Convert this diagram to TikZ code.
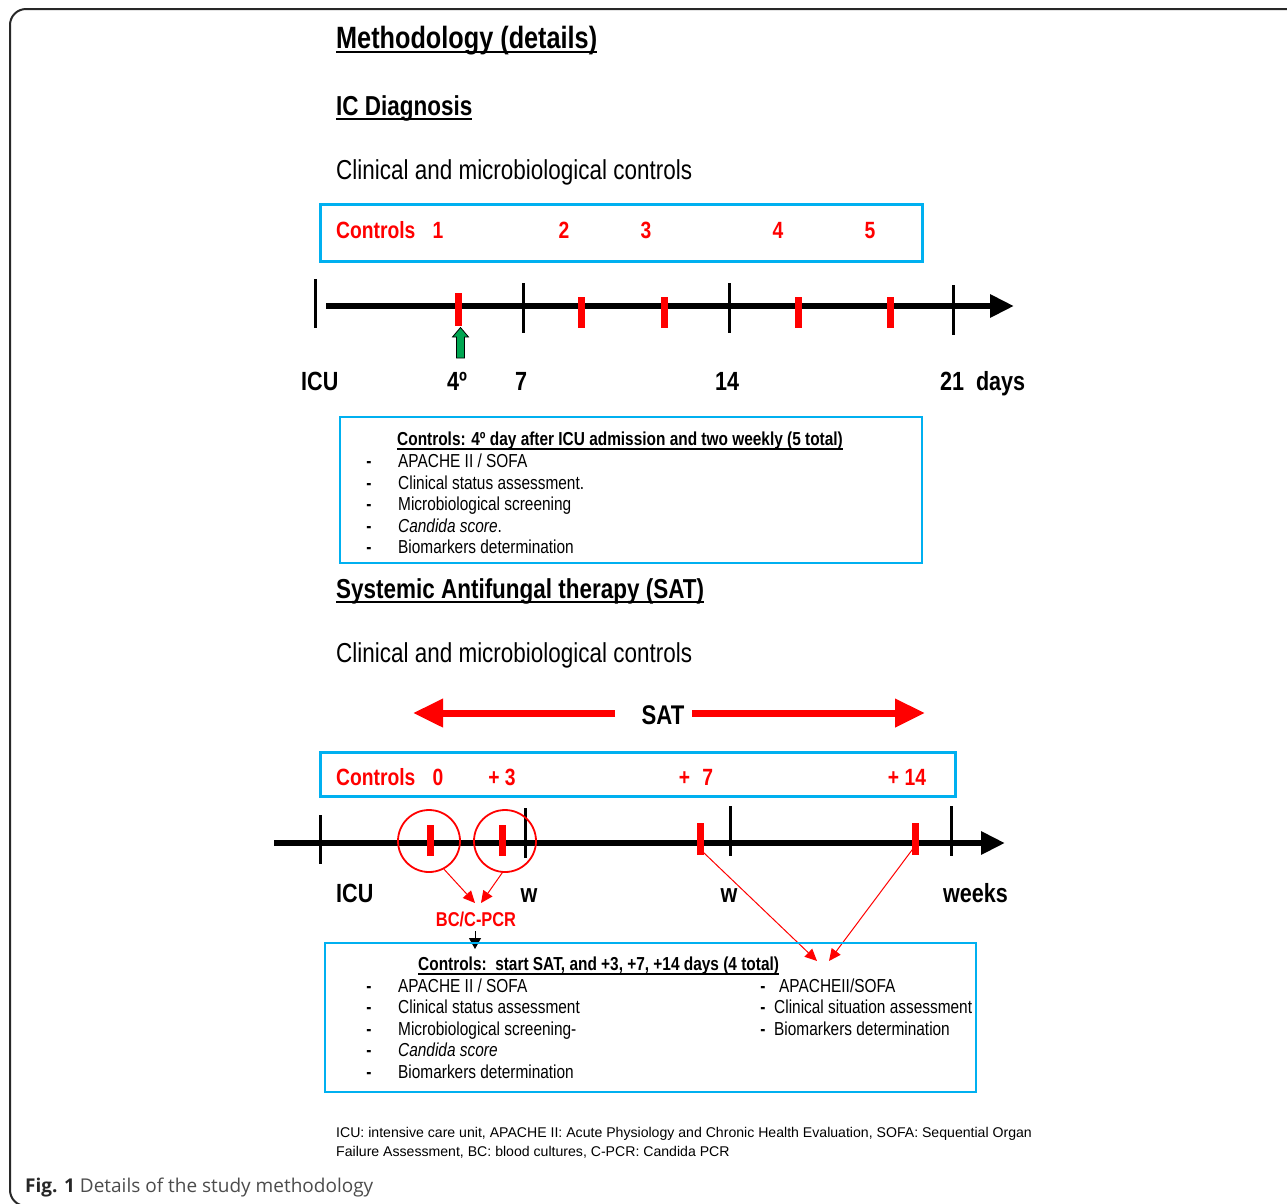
\documentclass[tikz,border=0pt]{standalone}
\usepackage{fontspec}
\setmainfont{Liberation Sans}[FakeStretch=0.82]
\newfontfamily\widefont{Liberation Sans}
\newfontfamily\capfont{Open Sans}
\usetikzlibrary{arrows.meta}
\definecolor{boxblue}{RGB}{0,176,240}
\definecolor{sred}{RGB}{255,0,0}
\definecolor{sgreen}{RGB}{0,166,81}
\definecolor{framegray}{RGB}{40,40,40}
\begin{document}
\begin{tikzpicture}[x=1pt,y=-1pt,
  txt/.style={inner sep=0pt, anchor=base west},
  ctxt/.style={inner sep=0pt, anchor=base},
  bigtitle/.style={txt, font=\fontsize{30.8}{36}\selectfont\bfseries},
  sectitle/.style={txt, font=\fontsize{27.4}{32}\selectfont\bfseries},
  plain/.style={txt, font=\fontsize{27.4}{32}\selectfont},
  ctrl/.style={font=\fontsize{23.5}{28}\selectfont\bfseries, text=sred},
  tlab/.style={font=\fontsize{26.3}{30}\selectfont\bfseries},
  boxtxt/.style={txt, font=\fontsize{18.8}{22}\selectfont},
  boxdash/.style={inner sep=0pt, anchor=base, font=\fontsize{18.8}{22}\selectfont\bfseries},
  boxtitle/.style={txt, font=\fontsize{18.8}{22}\selectfont\bfseries},
  thickblue/.style={draw=boxblue, line width=3, inner sep=0pt},
  thinblue/.style={draw=boxblue, line width=1.2, inner sep=0pt},
  axisline/.style={line width=6, -{Triangle[length=24pt,width=22pt]}},
  blacktick/.style={line width=3},
  redtick/.style={line width=7, sred},
  satarrow/.style={line width=7, sred, -{Triangle[length=30pt,width=27pt]}},
  thinred/.style={line width=1, sred, -{Triangle[length=12pt,width=11pt]}},
  uline/.style={line width=1.8}
]
\useasboundingbox (0,0) rectangle (1287,1203);
\begin{scope}
  \clip (0,0) rectangle (1287,1203);
  \draw[line width=2, draw=framegray, rounded corners=16] (10,9) rectangle (1320,1206);
\end{scope}

% ---------- titles
\node[bigtitle] (t1) at (336,48) {Methodology (details)};
\draw[uline, line width=2] ([yshift=-4pt]t1.base west) -- ([yshift=-4pt]t1.base east);
\node[sectitle] (t2) at (336,115) {IC Diagnosis};
\draw[uline] ([yshift=-4pt]t2.base west) -- ([yshift=-4pt]t2.base east);
\node[plain] (t3) at (336,179) {Clinical and microbiological controls};

% ---------- box 1
\node[thickblue, minimum width=602, minimum height=57] (box1) at (621,232.5) {};
\node[ctrl, txt] (c1) at (336,238) {Controls\hspace{0.5em} 1};
\node[ctrl, ctxt] (c2) at (564,238) {2};
\node[ctrl, ctxt] (c3) at (646,238) {3};
\node[ctrl, ctxt] (c4) at (778,238) {4};
\node[ctrl, ctxt] (c5) at (870,238) {5};

% ---------- timeline 1
\coordinate (a1s) at (326,306);
\coordinate (a1e) at (1014,306);
\draw[axisline] (a1s) -- (a1e);
\draw[blacktick] (315,279) -- (315,328);
\draw[blacktick] (523,283) -- (523,333);
\draw[blacktick] (729,283) -- (729,333);
\draw[blacktick] (953,285) -- (953,335);
\draw[redtick] (458,293) -- (458,326);
\draw[redtick] (581,297) -- (581,328);
\draw[redtick] (664,297) -- (664,328);
\draw[redtick] (798,297) -- (798,328);
\draw[redtick] (890,297) -- (890,328);
\filldraw[fill=sgreen, draw=black, line width=0.8]
  (456.5,358) -- (456.5,337) -- (452.5,337) -- (460.5,327.5) -- (468.5,337) -- (464.5,337) -- (464.5,358) -- cycle;
\node[tlab, txt] (l1) at (301,390) {ICU};
\node[tlab, ctxt] (l2) at (457,390) {4º};
\node[tlab, ctxt] (l3) at (521,390) {7};
\node[tlab, ctxt] (l4) at (727,390) {14};
\node[tlab, txt] (l5) at (940,390) {21\hspace{0.45em}days};

% ---------- box 2
\node[thinblue, minimum width=582, minimum height=146] (box2) at (631,490) {};
\node[boxtitle] (b2t) at (397,445) {Controls: 4º day after ICU admission and two weekly (5 total)};
\draw[uline, line width=1.2] ([yshift=-4pt]b2t.base west) -- ([yshift=-4pt]b2t.base east);
\foreach \yy/\tt [count=\i] in {467/{APACHE II / SOFA}, 489/{Clinical status assessment.}, 510/{Microbiological screening}, 532/{\textit{Candida score}.}, 553/{Biomarkers determination}}{
  \node[boxdash] (b2d\i) at (369,\yy) {-};
  \node[boxtxt] (b2i\i) at (398,\yy) {\tt};
}

% ---------- section 2
\node[sectitle] (t4) at (336,598) {Systemic Antifungal therapy (SAT)};
\draw[uline] ([yshift=-4pt]t4.base west) -- ([yshift=-4pt]t4.base east);
\node[plain] (t5) at (336,662) {Clinical and microbiological controls};

\node[tlab, font=\fontsize{27}{32}\selectfont\bfseries, anchor=base] (sat) at (663,724) {SAT};
\coordinate (satl) at (413,713);
\coordinate (satr) at (925,713);
\draw[satarrow] (615,713) -- (satl);
\draw[satarrow] (692,713) -- (satr);

% ---------- box 3
\node[thickblue, minimum width=635, minimum height=44] (box3) at (637.5,774) {};
\node[ctrl, txt] (d1) at (336,785) {Controls\hspace{0.5em} 0};
\node[ctrl, ctxt] (d2) at (502,785) {+ 3};
\node[ctrl, ctxt] (d3) at (696,785) {+\hspace{0.3em} 7};
\node[ctrl, ctxt] (d4) at (907,785) {+ 14};

% ---------- timeline 2
\coordinate (a2s) at (274,843);
\coordinate (a2e) at (1005,843);
\draw[axisline] (a2s) -- (a2e);
\draw[blacktick] (320,815) -- (320,864);
\draw[blacktick] (525,808) -- (525,858);
\draw[blacktick] (730,806) -- (730,856);
\draw[blacktick] (951,806) -- (951,856);
\draw[redtick] (430,825) -- (430,856);
\draw[redtick] (502,825) -- (502,856);
\coordinate (r7top) at (700,823);
\coordinate (r7) at (700,855);
\coordinate (r14top) at (915,823);
\coordinate (r14) at (915,855);
\draw[redtick] (r7top) -- (r7);
\draw[redtick] (r14top) -- (r14);
\node[draw=sred, line width=1.8, circle, minimum size=62, inner sep=0pt] (cir1) at (429,841) {};
\node[draw=sred, line width=1.8, circle, minimum size=62, inner sep=0pt] (cir2) at (505,841) {};
\node[tlab, txt] (m1) at (336,902) {ICU};
\node[tlab, ctxt] (m2) at (529,902) {w};
\node[tlab, ctxt] (m3) at (729,902) {w};
\node[tlab, txt] (m4) at (943,902) {weeks};

\node[ctxt, font=\fontsize{20}{24}\selectfont\bfseries, text=sred] (bc) at (476,926) {BC/C-PCR};
\coordinate (bcin1) at (475,903);
\coordinate (bcin2) at (481,903);
\draw[thinred] (cir1.-62) -- (bcin1);
\draw[thinred] (cir2.-95) -- (bcin2);
\coordinate (bcout) at (475,931);
\coordinate (box4in) at (475,949);
\draw[line width=1, -{Triangle[length=11pt,width=12pt]}] (bcout) -- (box4in);

\coordinate (tip7) at (817,961);
\coordinate (tip14) at (829,961);
\draw[thinred] ([xshift=3pt,yshift=3pt]r7) -- (tip7);
\draw[thinred] ([yshift=9pt]r14) -- (tip14);

% ---------- box 4
\node[thinblue, minimum width=651, minimum height=149] (box4) at (650.5,1017.5) {};
\node[boxtitle] (b4t) at (418,970) {Controls:\ \ start SAT, and +3, +7, +14 days (4 total)};
\draw[uline, line width=1.2] ([yshift=-4pt]b4t.base west) -- ([yshift=-4pt]b4t.base east);
\foreach \yy/\tt [count=\i] in {992/{APACHE II / SOFA}, 1013/{Clinical status assessment}, 1035/{Microbiological screening-}, 1056/{\textit{Candida score}}, 1078/{Biomarkers determination}}{
  \node[boxdash] (b4d\i) at (369,\yy) {-};
  \node[boxtxt] (b4i\i) at (398,\yy) {\tt};
}
\node[boxdash] (b4r1d) at (763,992) {-};
\node[boxtxt] (b4r1) at (779,992) {APACHEII/SOFA};
\node[boxdash] (b4r2d) at (763,1013) {-};
\node[boxtxt] (b4r2) at (774,1013) {Clinical situation assessment};
\node[boxdash] (b4r3d) at (763,1035) {-};
\node[boxtxt] (b4r3) at (774,1035) {Biomarkers determination};

% ---------- footnote and caption
\node[txt, font=\widefont\fontsize{14.1}{18}\selectfont] (fn1) at (336,1137) {ICU: intensive care unit, APACHE II: Acute Physiology and Chronic Health Evaluation, SOFA: Sequential Organ};
\node[txt, font=\widefont\fontsize{14.1}{18}\selectfont] (fn2) at (336,1156) {Failure Assessment, BC: blood cultures, C-PCR: Candida PCR};
\node[txt, font=\capfont\fontsize{19}{23}\selectfont, text=black!70] (cap) at (25,1192) {\textbf{\color{black!85}Fig. 1} Details of the study methodology};
\end{tikzpicture}
\end{document}
